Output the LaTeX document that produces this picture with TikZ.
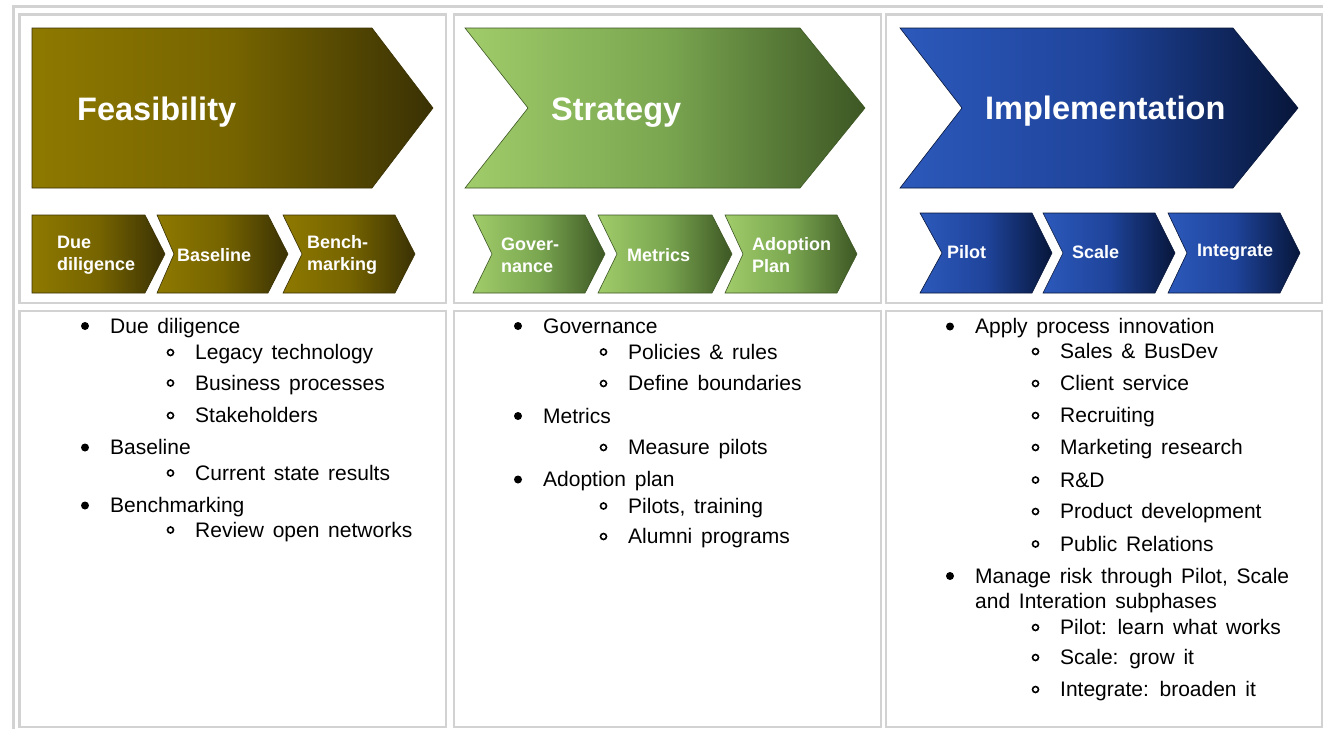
\documentclass[tikz,border=0pt]{standalone}
\usepackage{fontspec}
\setmainfont{Liberation Sans}
\newfontfamily\listfont{Liberation Sans}[WordSpace=1.5]

\definecolor{linegray}{HTML}{D2D2D2}
\definecolor{feasL}{HTML}{8E7900}
\definecolor{feasM}{HTML}{766400}
\definecolor{feasR}{HTML}{3A3104}
\definecolor{stratL}{HTML}{A0CC6A}
\definecolor{stratM}{HTML}{7AA650}
\definecolor{stratR}{HTML}{3D5724}
\definecolor{implL}{HTML}{2C59BB}
\definecolor{implM}{HTML}{1F449B}
\definecolor{implR}{HTML}{07163A}

% chevron: left x, top y, width up to the tip, height, tip depth, notch depth
\newcommand{\chevpath}[6]{(#1,#2) -- ++(#3-#5,0) -- ++(#5,#4/2) -- ++(-#5,#4/2) -- ++(#5-#3,0) -- ++(#6,-#4/2) -- cycle}

\begin{document}
\begin{tikzpicture}[x=1pt, y=-1pt,
    cell/.style={draw=linegray, line width=2.2pt},
    feas/.style={draw=feasR, line width=0.6pt, left color=feasL, right color=feasR, middle color=feasM},
    strat/.style={draw=stratR, line width=0.6pt, left color=stratL, right color=stratR, middle color=stratM},
    impl/.style={draw=implR, line width=0.6pt, left color=implL, right color=implR, middle color=implM},
    phase/.style={anchor=base west, inner sep=0pt, text=white, font=\bfseries\fontsize{32.5}{39}\selectfont},
    subphase/.style={anchor=west, inner sep=0pt, text=white, align=left, font=\bfseries\fontsize{18}{22}\selectfont},
    itemtext/.style={anchor=base west, inner sep=0pt, text height=14pt, text depth=0pt, font=\listfont\fontsize{21}{25}\selectfont},
    mainitem/.style={itemtext, label={[circle, fill=black, inner sep=0pt, outer sep=0pt, minimum size=8pt, label distance=21pt]left:{}}},
    subitem/.style={itemtext, label={[circle, draw=black, line width=1.6pt, inner sep=0pt, outer sep=0pt, minimum size=6pt, label distance=21.5pt]left:{}}}]

    \useasboundingbox (0,0) rectangle (1323,729);
    \fill[white] (0,0) rectangle (1323,729);

    % table frame and cells
    \draw[linegray, line width=3pt] (13.3,729) -- (13.3,6.7) -- (1323,6.7);
    \draw[cell] (19.5,14.5) rectangle (446,303);
    \draw[cell] (454,14.5) rectangle (881.3,303);
    \draw[cell] (886,14.5) rectangle (1322,303);
    \draw[cell] (19.5,311) rectangle (446,727);
    \draw[cell] (454,311) rectangle (881.3,727);
    \draw[cell] (886,311) rectangle (1322,727);

    % Feasibility
    \path[feas] \chevpath{32}{28}{401}{160}{61}{0};
    \path[feas] \chevpath{32}{215}{133}{78}{20}{0};
    \path[feas] \chevpath{157}{215}{131}{78}{20}{17};
    \path[feas] \chevpath{283}{215}{132}{78}{20}{19};
    \node[phase] (feasibility) at (77,120) {Feasibility};
    \node[subphase] (duedil) at (57,255) {Due\\diligence};
    \node[subphase] (baseline) at (177,255) {Baseline};
    \node[subphase] (benchmark) at (307,255) {Bench-\\marking};

    % Strategy
    \path[strat] \chevpath{465}{28}{400}{160}{65}{63};
    \path[strat] \chevpath{473}{215}{132}{78}{20}{19};
    \path[strat] \chevpath{598}{215}{134}{78}{20}{19};
    \path[strat] \chevpath{725}{215}{132}{78}{20}{18};
    \node[phase] (strategy) at (551,120) {Strategy};
    \node[subphase] (governance) at (501,255) {Gover-\\nance};
    \node[subphase] (metrics) at (627,255) {Metrics};
    \node[subphase] (adoption) at (752,255) {Adoption\\Plan};

    % Implementation
    \path[impl] \chevpath{900}{28}{398}{160}{65}{62};
    \path[impl] \chevpath{920}{213}{132}{80}{20}{22};
    \path[impl] \chevpath{1043}{213}{132}{80}{20}{20};
    \path[impl] \chevpath{1168}{213}{132}{80}{20}{19};
    \node[phase] (implementation) at (985,119) {Implementation};
    \node[subphase] (pilot) at (947,252) {Pilot};
    \node[subphase] (scale) at (1072,252) {Scale};
    \node[subphase] (integrate) at (1197,252) {Integrate};

    % First column
    \node[mainitem] (dd) at (110,333) {Due diligence};
    \node[subitem] (legacy) at (195,359.5) {Legacy technology};
    \node[subitem] (bizproc) at (195,390) {Business processes};
    \node[subitem] (stake) at (195,422.5) {Stakeholders};
    \node[mainitem] (base) at (110,454.5) {Baseline};
    \node[subitem] (curstate) at (195,480) {Current state results};
    \node[mainitem] (bench) at (110,512.5) {Benchmarking};
    \node[subitem] (review) at (195,537) {Review open networks};

    % Second column
    \node[mainitem] (gov) at (543,333) {Governance};
    \node[subitem] (policies) at (628,359) {Policies \& rules};
    \node[subitem] (bounds) at (628,390.5) {Define boundaries};
    \node[mainitem] (metr) at (543,423) {Metrics};
    \node[subitem] (measure) at (628,454.5) {Measure pilots};
    \node[mainitem] (adopt) at (543,486.5) {Adoption plan};
    \node[subitem] (training) at (628,513) {Pilots, training};
    \node[subitem] (alumni) at (628,543.5) {Alumni programs};

    % Third column
    \node[mainitem] (apply) at (975,333.5) {Apply process innovation};
    \node[subitem] (sales) at (1060,358.5) {Sales \& BusDev};
    \node[subitem] (client) at (1060,390.5) {Client service};
    \node[subitem] (recruit) at (1060,422.5) {Recruiting};
    \node[subitem] (market) at (1060,454.5) {Marketing research};
    \node[subitem] (rnd) at (1060,487) {R\&D};
    \node[subitem] (product) at (1060,518.5) {Product development};
    \node[subitem] (pr) at (1060,551) {Public Relations};
    \node[mainitem] (manage) at (975,583) {Manage risk through Pilot, Scale};
    \node[itemtext] (manage2) at (975,608.5) {and Interation subphases};
    \node[subitem] (learn) at (1060,634.5) {Pilot: learn what works};
    \node[subitem] (grow) at (1060,664.5) {Scale: grow it};
    \node[subitem] (broaden) at (1060,696.5) {Integrate: broaden it};

\end{tikzpicture}
\end{document}
